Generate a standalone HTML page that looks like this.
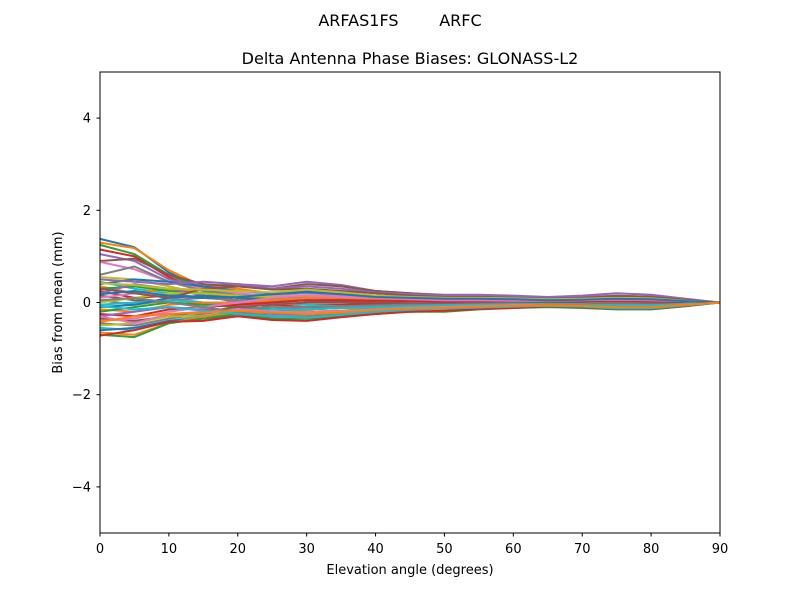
<!DOCTYPE html>
<html><head><meta charset="utf-8"><style>
body{margin:0;background:#fff}
svg text{font-family:"DejaVu Sans","Liberation Sans",sans-serif;fill:#000}
</style></head><body>
<svg id="chart" width="800" height="600" xmlns="http://www.w3.org/2000/svg">
<rect width="800" height="600" fill="#fff"/>
<text x="400" y="26" font-size="16" text-anchor="middle" style="white-space:pre" xml:space="preserve">ARFAS1FS        ARFC</text>
<text x="410" y="64" font-size="16" text-anchor="middle">Delta Antenna Phase Biases: GLONASS-L2</text>
<g id="lines"></g>
<rect x="100" y="72" width="620" height="461" fill="none" stroke="#000" stroke-width="1"/>
<g id="xt"></g>
<g id="yt"></g>
<text x="410" y="574" font-size="13" text-anchor="middle">Elevation angle (degrees)</text>
<text transform="translate(62,302.5) rotate(-90)" font-size="13" text-anchor="middle">Bias from mean (mm)</text>
</svg>
<script>
const elevations=[0,5,10,15,20,25,30,35,40,45,50,55,60,65,70,75,80,85,90];
const xTicks=[0,10,20,30,40,50,60,70,80,90];
const yTicks=[-4,-2,0,2,4];
const yTickLabels=["\u22124","\u22122","0","2","4"];
const series=[
[1.38,1.2,0.65,0.3,0.15,0.05,0.1,0.08,0.05,0.03,0.02,0.03,0.02,0.01,0,0.01,0.02,0.01,0],
[1.3,1.18,0.7,0.35,0.3,0.2,0.25,0.2,0.15,0.12,0.1,0.1,0.08,0.06,0.05,0.06,0.05,0.03,0],
[1.25,1.05,0.6,0.3,0.2,0.1,0.12,0.1,0.08,0.06,0.05,0.05,0.04,0.03,0.04,0.05,0.04,0.02,0],
[1.15,1.0,0.55,0.25,0.1,0,-0.05,-0.05,-0.03,-0.02,-0.03,-0.02,-0.01,0,0.02,0.03,0.02,0.01,0],
[1.05,0.9,0.5,0.35,0.4,0.35,0.45,0.38,0.25,0.2,0.17,0.17,0.15,0.12,0.15,0.2,0.17,0.08,0],
[0.9,0.95,0.6,0.4,0.35,0.3,0.4,0.35,0.25,0.2,0.15,0.12,0.1,0.08,0.1,0.12,0.1,0.05,0],
[0.88,0.72,0.45,0.3,0.2,0.15,0.2,0.15,0.1,0.05,0.05,0.06,0.05,0.04,0.05,0.06,0.05,0.03,0],
[0.6,0.78,0.45,0.25,0.15,0.08,0.1,0.1,0.08,0.05,0.04,0.05,0.04,0.03,0.02,0,-0.02,-0.01,0],
[0.55,0.5,0.35,0.2,0.1,0.05,0.1,0.1,0.08,0.05,0.04,0.05,0.04,0.03,0.02,0,-0.02,-0.01,0],
[0.45,0.3,0.2,0.1,0.05,0,-0.05,-0.08,-0.1,-0.1,-0.1,-0.08,-0.06,-0.05,-0.05,-0.06,-0.05,-0.03,0],
[0.4,0.5,0.45,0.35,0.25,0.2,0.25,0.2,0.15,0.1,0.08,0.1,0.08,0.08,0.1,0.12,0.1,0.05,0],
[0.35,0.2,0.3,0.2,0.1,0.05,0.05,0.03,0.02,0,-0.02,-0.02,-0.03,-0.03,-0.05,-0.08,-0.08,-0.04,0],
[0.3,0.35,0.25,0.2,0.15,0.1,0.15,0.12,0.08,0.05,0.05,0.06,0.05,0.05,0.06,0.08,0.07,0.04,0],
[0.25,0.1,0.15,0.12,0.05,-0.05,-0.1,-0.1,-0.08,-0.06,-0.05,-0.05,-0.04,-0.03,-0.05,-0.08,-0.07,-0.03,0],
[0.2,0.4,0.3,0.15,0.0,-0.1,-0.15,-0.12,-0.1,-0.08,-0.05,-0.05,-0.04,-0.02,-0.03,-0.05,-0.05,-0.02,0],
[0.15,0.05,0.0,-0.05,0.0,0.05,0.1,0.08,0.05,0.02,0,0.02,0.02,0.02,0.03,0.05,0.04,0.02,0],
[0.1,0.2,0.1,0.0,-0.05,-0.05,0.0,0.0,0.02,0.02,0.02,0.03,0.02,0.02,0.02,0.03,0.03,0.02,0],
[0.05,-0.05,0.05,0.1,0.05,0.0,0.05,0.05,0.05,0.03,0.03,0.04,0.03,0.02,0.02,0.01,0.0,0.0,0],
[0.0,0.1,0.2,0.2,0.15,0.12,0.15,0.12,0.1,0.08,0.06,0.07,0.06,0.05,0.05,0.06,0.05,0.03,0],
[-0.05,0.0,0.05,0.0,-0.08,-0.15,-0.2,-0.18,-0.12,-0.1,-0.08,-0.06,-0.05,-0.04,-0.05,-0.08,-0.08,-0.04,0],
[-0.1,-0.05,0.1,0.15,0.1,0.05,0.05,0.02,0.0,-0.02,-0.03,-0.02,-0.02,-0.02,-0.03,-0.05,-0.05,-0.03,0],
[-0.15,-0.2,-0.05,0.0,0.0,0.05,0.1,0.1,0.08,0.06,0.05,0.05,0.04,0.03,0.03,0.04,0.04,0.02,0],
[-0.2,-0.1,0.0,-0.05,-0.1,-0.15,-0.15,-0.12,-0.1,-0.08,-0.06,-0.05,-0.04,-0.04,-0.06,-0.08,-0.07,-0.04,0],
[-0.25,-0.3,-0.15,-0.1,-0.05,0.0,0.05,0.05,0.04,0.03,0.02,0.03,0.03,0.02,0.02,0.03,0.02,0.01,0],
[-0.3,-0.2,-0.1,-0.15,-0.2,-0.25,-0.25,-0.2,-0.15,-0.12,-0.1,-0.08,-0.06,-0.05,-0.06,-0.1,-0.1,-0.05,0],
[-0.35,-0.4,-0.3,-0.2,-0.1,-0.05,0.0,0.0,0.0,-0.02,-0.03,-0.02,-0.02,-0.02,-0.03,-0.04,-0.04,-0.02,0],
[-0.4,-0.35,-0.2,-0.1,0.0,0.1,0.15,0.12,0.1,0.07,0.05,0.05,0.04,0.04,0.05,0.06,0.05,0.03,0],
[-0.45,-0.5,-0.35,-0.25,-0.15,-0.1,-0.1,-0.08,-0.06,-0.05,-0.05,-0.04,-0.03,-0.03,-0.04,-0.05,-0.05,-0.03,0],
[-0.5,-0.45,-0.3,-0.3,-0.3,-0.35,-0.38,-0.3,-0.22,-0.18,-0.15,-0.12,-0.1,-0.08,-0.1,-0.15,-0.15,-0.08,0],
[-0.55,-0.6,-0.4,-0.3,-0.2,-0.15,-0.15,-0.12,-0.1,-0.08,-0.06,-0.05,-0.04,-0.03,-0.04,-0.06,-0.06,-0.03,0],
[-0.6,-0.55,-0.4,-0.35,-0.3,-0.3,-0.3,-0.25,-0.2,-0.15,-0.12,-0.1,-0.08,-0.06,-0.08,-0.12,-0.12,-0.06,0],
[-0.65,-0.7,-0.45,-0.3,-0.25,-0.2,-0.2,-0.18,-0.15,-0.12,-0.1,-0.08,-0.06,-0.05,-0.06,-0.1,-0.1,-0.05,0],
[-0.7,-0.75,-0.45,-0.35,-0.25,-0.35,-0.35,-0.3,-0.25,-0.2,-0.2,-0.15,-0.12,-0.1,-0.12,-0.15,-0.15,-0.08,0],
[-0.72,-0.6,-0.42,-0.4,-0.3,-0.38,-0.4,-0.32,-0.25,-0.2,-0.18,-0.14,-0.12,-0.08,-0.1,-0.14,-0.14,-0.07,0],
[0.5,0.45,0.4,0.45,0.4,0.3,0.35,0.3,0.22,0.18,0.15,0.15,0.12,0.1,0.12,0.15,0.13,0.06,0],
[0.3,0.2,0.1,0.3,0.35,0.28,0.3,0.25,0.2,0.15,0.12,0.12,0.1,0.08,0.1,0.14,0.12,0.06,0],
[-0.3,-0.45,-0.25,-0.2,-0.15,-0.2,-0.22,-0.2,-0.15,-0.12,-0.1,-0.08,-0.06,-0.06,-0.08,-0.12,-0.12,-0.06,0],
[0.05,0.1,0.0,-0.1,-0.2,-0.3,-0.3,-0.25,-0.18,-0.14,-0.12,-0.1,-0.08,-0.05,-0.06,-0.1,-0.1,-0.05,0],
[0.42,0.38,0.3,0.28,0.25,0.22,0.28,0.22,0.15,0.12,0.1,0.1,0.09,0.07,0.08,0.1,0.09,0.04,0],
[-0.08,-0.15,-0.1,-0.18,-0.25,-0.3,-0.33,-0.27,-0.2,-0.16,-0.13,-0.11,-0.09,-0.07,-0.09,-0.13,-0.13,-0.06,0],
[0.18,0.25,0.15,0.1,0.12,0.18,0.22,0.18,0.12,0.1,0.08,0.08,0.07,0.05,0.06,0.08,0.07,0.03,0],
[-0.42,-0.3,-0.25,-0.22,-0.18,-0.22,-0.25,-0.22,-0.16,-0.13,-0.11,-0.09,-0.07,-0.06,-0.07,-0.1,-0.1,-0.05,0]
];
const colors=["#1f77b4","#ff7f0e","#2ca02c","#d62728","#9467bd","#8c564b","#e377c2","#7f7f7f","#bcbd22","#17becf"];
const X0=100,X1=720,Y0=533,Y1=72;
const xs=v=>X0+(v-0)/(90-0)*(X1-X0);
const ys=v=>Y0-(v+5)/10*(Y0-Y1);
const NS="http://www.w3.org/2000/svg";
const g=document.getElementById('lines');
series.forEach((s,i)=>{
  const p=document.createElementNS(NS,'polyline');
  p.setAttribute('points',s.map((v,j)=>xs(elevations[j]).toFixed(1)+','+ys(v).toFixed(1)).join(' '));
  p.setAttribute('fill','none');
  p.setAttribute('stroke',colors[i%10]);
  p.setAttribute('stroke-width','2');
  p.setAttribute('stroke-linejoin','round');
  
  
  g.appendChild(p);
});
const xt=document.getElementById('xt');
xTicks.forEach(t=>{
  const l=document.createElementNS(NS,'line');
  l.setAttribute('x1',xs(t));l.setAttribute('x2',xs(t));l.setAttribute('y1',533);l.setAttribute('y2',536.5);l.setAttribute('stroke','#000');
  
  
  xt.appendChild(l);
  const tx=document.createElementNS(NS,'text');
  tx.setAttribute('x',xs(t));tx.setAttribute('y',553);tx.setAttribute('font-size','13');tx.setAttribute('text-anchor','middle');
  tx.textContent=t;
  
  
  xt.appendChild(tx);
});
const yt=document.getElementById('yt');
yTicks.forEach((t,i)=>{
  const l=document.createElementNS(NS,'line');
  l.setAttribute('x1',96.5);l.setAttribute('x2',100);l.setAttribute('y1',ys(t));l.setAttribute('y2',ys(t));l.setAttribute('stroke','#000');
  
  
  yt.appendChild(l);
  const tx=document.createElementNS(NS,'text');
  tx.setAttribute('x',91);tx.setAttribute('y',ys(t)+4.5);tx.setAttribute('font-size','13');tx.setAttribute('text-anchor','end');
  tx.textContent=yTickLabels[i];
  
  
  yt.appendChild(tx);
});
</script>
</body></html>
